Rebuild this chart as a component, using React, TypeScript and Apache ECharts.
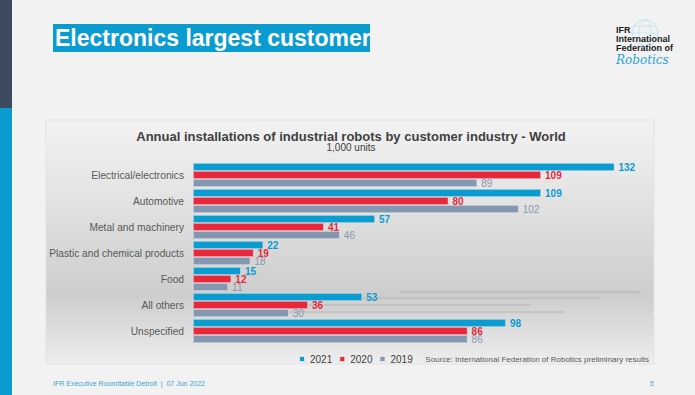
import React, { useEffect, useRef } from "react";
import * as echarts from "echarts";

const categories = [
  "Electrical/electronics",
  "Automotive",
  "Metal and machinery",
  "Plastic and chemical products",
  "Food",
  "All others",
  "Unspecified",
];
const seriesNames = ["2021", "2020", "2019"];
const values2021 = [132, 109, 57, 22, 15, 53, 98];
const values2020 = [109, 80, 41, 19, 12, 36, 86];
const values2019 = [89, 102, 46, 18, 11, 30, 86];

const BLUE = "#0a9cd0";
const RED = "#e8283a";
const GREY = "#8497b0";
const FONT = "Liberation Sans, Arial, sans-serif";

export default function App() {
  const ref = useRef<HTMLDivElement>(null);
  useEffect(() => {
    document.body.style.margin = "0";
    if (!ref.current) return;
    const chart = echarts.init(ref.current, null, { renderer: "svg" });
    const mk = (name: string, data: number[], color: string, bold: boolean) => ({
      name,
      type: "bar",
      data,
      barWidth: 8,
      barGap: "0%",
      itemStyle: { color, borderColor: "rgba(235,235,235,0.9)", borderWidth: 0.6 },
      label: {
        show: true,
        position: "right",
        distance: 4,
        color,
        fontFamily: FONT,
        fontSize: 10,
        lineHeight: 8,
        fontWeight: bold ? "bold" : "normal",
      },
    });
    const ghostLines = [
      { x: 400, y: 291, w: 240 },
      { x: 250, y: 297, w: 350 },
      { x: 300, y: 304, w: 230 },
      { x: 240, y: 311, w: 325 },
    ];
    chart.setOption({
      animation: false,
      backgroundColor: "#f2f2f2",
      textStyle: { fontFamily: FONT },
      grid: { left: 193, top: 162, width: 447, height: 182, containLabel: false },
      xAxis: {
        type: "value",
        min: 0,
        max: 140,
        show: false,
      },
      yAxis: {
        type: "category",
        data: categories,
        inverse: true,
        axisLine: { show: false },
        axisTick: { show: false },
        axisLabel: { color: "#595959", fontSize: 10.2, fontFamily: FONT, margin: 9 },
      },
      legend: {
        data: seriesNames,
        left: 298,
        top: 354,
        padding: 0,
        itemWidth: 6,
        itemHeight: 6,
        itemGap: 6,
        icon: "rect",
        textStyle: { color: "#404040", fontSize: 10, fontFamily: FONT },
      },
      graphic: [
        { type: "rect", z: -10, shape: { x: 0, y: 0, width: 12, height: 108 }, style: { fill: "#3d4a5f" } },
        { type: "rect", z: -10, shape: { x: 0, y: 108, width: 12, height: 287 }, style: { fill: "#0a9cd0" } },
        { type: "rect", z: -10, shape: { x: 53, y: 24, width: 317, height: 28 }, style: { fill: "#0a9cd0" } },
        {
          type: "text",
          x: 55,
          y: 38,
          style: {
            text: "Electronics largest customer",
            fill: "#ffffff",
            font: "bold 23px " + FONT,
            verticalAlign: "middle",
          },
        },
        { type: "circle", z: -5, shape: { cx: 645, cy: 33, r: 13 }, style: { fill: "none", stroke: "#bfe3f3", lineWidth: 1 } },
        { type: "ellipse", z: -5, shape: { cx: 645, cy: 33, rx: 6, ry: 13 }, style: { fill: "none", stroke: "#bfe3f3", lineWidth: 0.8 } },
        { type: "line", z: -5, shape: { x1: 632, y1: 33, x2: 658, y2: 33 }, style: { stroke: "#bfe3f3", lineWidth: 0.8 } },
        { type: "line", z: -5, shape: { x1: 634, y1: 26, x2: 656, y2: 26 }, style: { stroke: "#bfe3f3", lineWidth: 0.8 } },
        { type: "line", z: -5, shape: { x1: 634, y1: 40, x2: 656, y2: 40 }, style: { stroke: "#bfe3f3", lineWidth: 0.8 } },
        { type: "text", x: 616, y: 30, style: { text: "IFR", fill: "#1a1a1a", font: "bold 9px " + FONT, verticalAlign: "middle" } },
        { type: "text", x: 616, y: 39, style: { text: "International", fill: "#1a1a1a", font: "bold 9px " + FONT, verticalAlign: "middle" } },
        { type: "text", x: 616, y: 48, style: { text: "Federation of", fill: "#1a1a1a", font: "bold 9px " + FONT, verticalAlign: "middle" } },
        { type: "text", x: 616, y: 60, style: { text: "Robotics", fill: "#2aa6d6", font: "italic 12px DejaVu Serif, serif", verticalAlign: "middle" } },
        {
          type: "rect",
          z: -8,
          shape: { x: 46, y: 120, width: 608, height: 244 },
          style: {
            fill: new echarts.graphic.LinearGradient(0, 0, 0, 1, [
              { offset: 0, color: "#f2f2f2" },
              { offset: 0.2, color: "#e9e9e9" },
              { offset: 0.72, color: "#cdcdcd" },
              { offset: 1, color: "#eeeeee" },
            ]),
            stroke: "#e2e2e2",
            lineWidth: 1,
          },
        },
        ...ghostLines.map((g) => ({
          type: "rect",
          z: -7,
          shape: { x: g.x, y: g.y, width: g.w, height: 2 },
          style: { fill: "rgba(165,165,165,0.3)", shadowBlur: 4, shadowColor: "rgba(160,160,160,0.4)" },
        })),
        {
          type: "text",
          x: 351,
          y: 136,
          style: {
            text: "Annual installations of industrial robots by customer industry - World",
            fill: "#404040",
            font: "bold 13px " + FONT,
            align: "center",
            verticalAlign: "middle",
          },
        },
        {
          type: "text",
          x: 351,
          y: 147.5,
          style: { text: "1,000 units", fill: "#404040", font: "10px " + FONT, align: "center", verticalAlign: "middle" },
        },
        {
          type: "text",
          x: 649,
          y: 359,
          style: {
            text: "Source: International Federation of Robotics preliminary results",
            fill: "#595959",
            font: "8px " + FONT,
            align: "right",
            verticalAlign: "middle",
          },
        },
        {
          type: "text",
          x: 53,
          y: 383,
          style: {
            text: "IFR Executive Roundtable Detroit  |  07 Jun 2022",
            fill: "#3aa6d0",
            font: "7px " + FONT,
            verticalAlign: "middle",
          },
        },
        {
          type: "text",
          x: 654,
          y: 383,
          style: { text: "5", fill: "#3aa6d0", font: "7px " + FONT, align: "right", verticalAlign: "middle" },
        },
      ],
      series: [
        mk(seriesNames[0], values2021, BLUE, true),
        mk(seriesNames[1], values2020, RED, true),
        mk(seriesNames[2], values2019, GREY, false),
      ],
    });
    return () => chart.dispose();
  }, []);
  return <div ref={ref} style={{ width: 695, height: 395 }} />;
}
